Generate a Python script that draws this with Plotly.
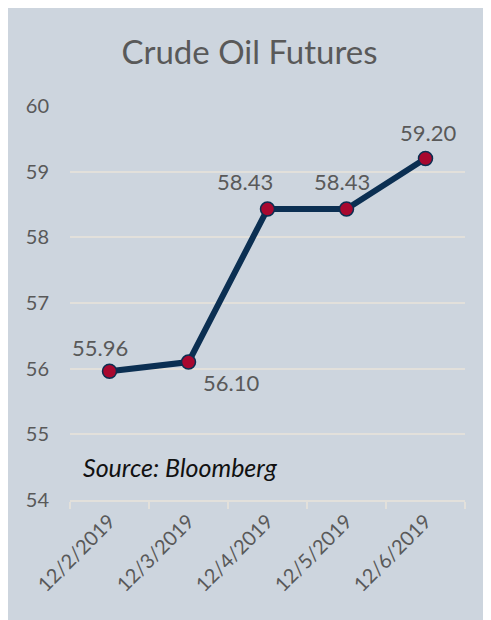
import plotly.graph_objects as go

dates = ["12/2/2019", "12/3/2019", "12/4/2019", "12/5/2019", "12/6/2019"]
prices = [55.96, 56.10, 58.43, 58.43, 59.20]
label_text = ["55.96", "56.10", "58.43", "58.43", "59.20"]
label_xshift = [-10, 42, -23, -5, 2]
label_yshift = [24, -20, 28, 28, 26]
y_ticks = [54, 55, 56, 57, 58, 59, 60]

BG = "#CDD5DE"
GRID = "#E2E0DB"
TXT = "#595959"
FONT = "Lato"

fig = go.Figure()
fig.add_trace(go.Scatter(
    x=dates, y=prices, mode="lines+markers",
    line=dict(color="#0B2F52", width=6),
    marker=dict(size=14, color="#A8082F", line=dict(color="#0B2F52", width=1.5)),
    hoverinfo="skip", showlegend=False,
))

for d, p, t, dx, dy in zip(dates, prices, label_text, label_xshift, label_yshift):
    fig.add_annotation(x=d, y=p, text=t, showarrow=False, xshift=dx, yshift=dy,
                       font=dict(family=FONT, size=22, color=TXT))

fig.add_annotation(xref="paper", yref="paper", x=0.028, y=0.084, xanchor="left", yanchor="middle",
                   text="<i>Source: Bloomberg</i>", showarrow=False,
                   font=dict(family=FONT, size=25, color="#111111"))

W, H = 483, 612
fig.update_layout(
    width=W, height=H,
    margin=dict(l=62, r=26, t=98, b=120),
    paper_bgcolor=BG, plot_bgcolor=BG,
    title=dict(text="Crude Oil Futures", x=0.5, xref="container", xanchor="center",
               y=1 - 44 / H, yanchor="middle",
               font=dict(family=FONT, size=33, color=TXT)),
    font=dict(family=FONT, color=TXT),
    xaxis=dict(type="category", showgrid=False, showline=True, linecolor=GRID, linewidth=1.5,
               ticks="outside", tickson="boundaries", ticklen=7, tickcolor=GRID, tickwidth=1.5,
               tickangle=-45, tickfont=dict(family=FONT, size=20, color=TXT),
               range=[-0.5, 4.5], fixedrange=True),
    yaxis=dict(range=[54, 60], tickvals=y_ticks, showgrid=True, gridcolor=GRID, gridwidth=1.5,
               zeroline=False, showline=False, ticks="", ticklabelstandoff=20,
               tickfont=dict(family=FONT, size=20, color=TXT), fixedrange=True),
)

fig.write_html("out.html")
